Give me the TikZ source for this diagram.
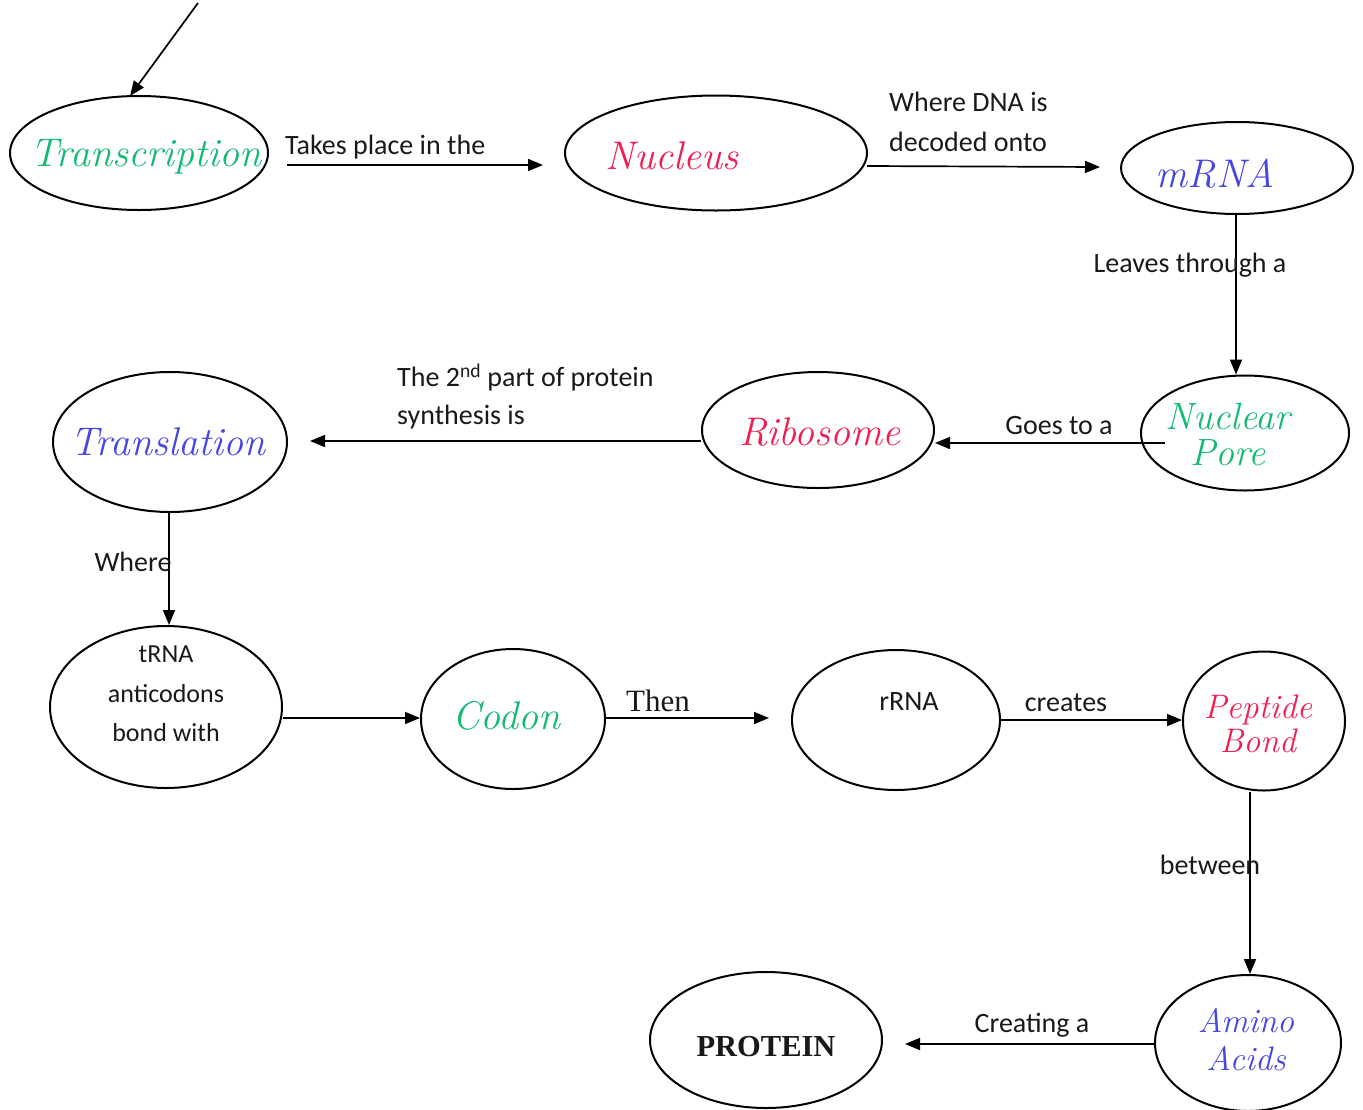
\documentclass[tikz,border=0pt]{standalone}
\usepackage{fontspec}
\setmainfont{Carlito}
\newfontfamily\serifx{Liberation Serif}
\newfontfamily\handx{Latin Modern Roman}
\usetikzlibrary{shapes.geometric,arrows.meta}
\definecolor{hgreen}{RGB}{20,185,115}
\definecolor{hred}{RGB}{240,30,80}
\definecolor{hblue}{RGB}{70,70,225}
\definecolor{ink}{RGB}{25,25,25}
\begin{document}
\begin{tikzpicture}[x=1pt,y=-1pt,
  oval/.style={draw,ellipse,line width=2pt,inner sep=0pt},
  arr/.style={line width=1.7pt,-{Triangle[length=15pt,width=12pt]}},
  lbl/.style={font=\fontsize{28}{34}\selectfont,inner sep=0pt,text=ink},
  hand/.style={font=\handx\itshape\fontsize{40}{38}\selectfont,inner sep=0pt}]
\useasboundingbox (0,0) rectangle (1363,1109);
% ellipses
\node[oval,minimum width=258pt,minimum height=114pt] (trans) at (139,153) {};
\node[oval,minimum width=302pt,minimum height=115pt] (nuc) at (716,153) {};
\node[oval,minimum width=232pt,minimum height=92pt] (mrna) at (1237,168) {};
\node[oval,minimum width=208pt,minimum height=115pt] (pore) at (1245,433) {};
\node[oval,minimum width=232pt,minimum height=116pt] (ribo) at (818,430) {};
\node[oval,minimum width=234pt,minimum height=140pt] (tl) at (170,442) {};
\node[oval,minimum width=232pt,minimum height=162pt] (trna) at (166,707) {};
\node[oval,minimum width=184pt,minimum height=140pt] (codon) at (513,719) {};
\node[oval,minimum width=208pt,minimum height=140pt] (rrna) at (896,720) {};
\node[oval,minimum width=162pt,minimum height=139pt] (pep) at (1264,721) {};
\node[oval,minimum width=186pt,minimum height=136pt] (amino) at (1248,1043) {};
\node[oval,minimum width=232pt,minimum height=136pt] (prot) at (766,1040) {};
% handwritten words
\node[hand,text=hgreen] (tTrans) at (146,157) {Transcription};
\node[hand,text=hred] (tNuc) at (672,156) {Nucleus};
\node[hand,text=hblue] (tMrna) at (1215,174) {mRNA};
\node[hand,text=hgreen,align=center,font=\handx\itshape\fontsize{38}{36}\selectfont] (tPore) at (1228,434) {Nuclear\\Pore};
\node[hand,text=hred] (tRibo) at (820,432) {Ribosome};
\node[hand,text=hblue] (tTl) at (168,442) {Translation};
\node[hand,text=hgreen] (tCodon) at (506,716) {Codon};
\node[hand,text=hred,align=center,font=\handx\itshape\fontsize{34}{34}\selectfont] (tPep) at (1258,724) {Peptide\\Bond};
\node[hand,text=hblue,align=center,font=\handx\itshape\fontsize{34}{38}\selectfont] (tAmino) at (1246,1040) {Amino\\Acids};
% printed texts
\node[lbl,align=center,font=\fontsize{26}{39.5}\selectfont] (tTrna) at (166,694) {tRNA\\anticodons\\bond with};
\node[lbl] (tRrna) at (909,702) {rRNA};
\node[inner sep=0pt,font=\serifx\bfseries\fontsize{30.5}{34}\selectfont,text=ink] (tProt) at (766,1047) {PROTEIN};
% connector coordinates
\coordinate (top) at (198,3);
\coordinate (a1) at (287,165);
\coordinate (a2) at (543,165);
\coordinate (b1) at (867,166);
\coordinate (b2) at (1100,167);
\coordinate (c1) at (1165,443);
\coordinate (d2) at (310,441);
\coordinate (e1) at (1155,1044);
\coordinate (e2) at (905,1044);
\coordinate (f2) at (769,718);
% connectors
\draw[arr] (top) -- (130,96) coordinate (topend);
\draw[arr] (a1) -- (a2);
\draw[arr] (b1) -- (b2);
\draw[arr] (1236,214) -- (pore.north -| 1236,0);
\draw[arr] (c1) -- (ribo.east |- c1);
\draw[arr] (ribo.west |- 0,441) -- (d2);
\draw[arr] (tl.south -| 169,0) -- (trna.north -| 169,0);
\draw[arr] (trna.east |- 0,718) -- (codon.west |- 0,718);
\draw[arr] (codon.east |- 0,718) -- (f2);
\draw[arr] (rrna.east |- 0,720) -- (pep.west |- 0,720);
\draw[arr] (pep.south -| 1250,0) -- (amino.north -| 1250,0);
\draw[arr] (e1) -- (e2);
% connector labels
\node[lbl,anchor=west] (lA) at (285,147) {Takes place in the};
\node[lbl,anchor=west] (lB1) at (889,102) {Where DNA is};
\node[lbl,anchor=west] (lB2) at (889,142) {decoded onto};
\node[lbl] (lC) at (1190,265) {Leaves through a};
\node[lbl] (lD) at (1059,426) {Goes to a};
\node[lbl,anchor=west] (lE1) at (397,377) {The 2\textsuperscript{nd} part of protein};
\node[lbl,anchor=west] (lE2) at (397,417) {synthesis is};
\node[lbl] (lF) at (133,562) {Where};
\node[inner sep=0pt,font=\serifx\fontsize{31}{34}\selectfont,text=ink] (lG) at (658,701) {Then};
\node[lbl] (lH) at (1066,703) {creates};
\node[lbl] (lI) at (1210,865) {between};
\node[lbl] (lJ) at (1032,1025) {Creating a};
\end{tikzpicture}
\end{document}
